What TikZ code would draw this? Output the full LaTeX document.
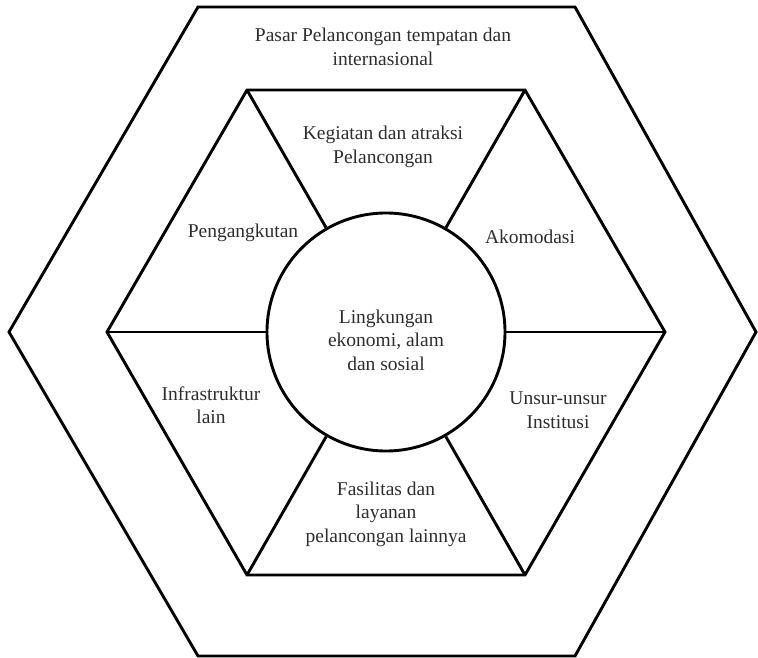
\documentclass[tikz,border=0pt]{standalone}
\usepackage{fontspec}
\setmainfont{Liberation Serif}
\begin{document}
\begin{tikzpicture}[x=1pt,y=-1pt,
  edge/.style={line width=2.9pt,line join=miter,black},
  lbl/.style={align=center,text=black!82,inner sep=0pt,font=\fontsize{19.5}{23.5}\selectfont}]
\useasboundingbox (0,0) rectangle (758,658);
% outer hexagon
\coordinate (o1) at (9,332);
\coordinate (o2) at (198,7);
\coordinate (o3) at (575,7);
\coordinate (o4) at (756,332);
\coordinate (o5) at (575,656);
\coordinate (o6) at (198,656);
\draw[edge] (o1) -- (o2) -- (o3) -- (o4) -- (o5) -- (o6) -- cycle;
% inner hexagon
\coordinate (i1) at (107,332);
\coordinate (i2) at (247,90);
\coordinate (i3) at (525,90);
\coordinate (i4) at (665,332);
\coordinate (i5) at (525,575);
\coordinate (i6) at (247,575);
\draw[edge] (i1) -- (i2) -- (i3) -- (i4) -- (i5) -- (i6) -- cycle;
% centre circle
\node[edge,draw,circle,minimum size=238pt,inner sep=0pt,fill=white] (env) at (386,332) {};
\node[lbl] (envtxt) at (386,340) {Lingkungan\\ekonomi, alam\\dan sosial};
% spokes
\foreach \v in {i1,i2,i3,i4,i5,i6} \draw[edge] (\v) -- (env);
% labels
\node[lbl] (pasar) at (383,47) {Pasar Pelancongan tempatan dan\\internasional};
\node[lbl] (kegiatan) at (383,147) {Kegiatan dan atraksi\\Pelancongan};
\node[lbl] (angkut) at (243,233) {Pengangkutan};
\node[lbl] (akomo) at (530,237) {Akomodasi};
\node[lbl] (infra) at (211,405) {Infrastruktur\\lain};
\node[lbl] (unsur) at (558,410) {Unsur-unsur\\Institusi};
\node[lbl] (fasil) at (386,514) {Fasilitas dan\\layanan\\pelancongan lainnya};
\end{tikzpicture}
\end{document}
